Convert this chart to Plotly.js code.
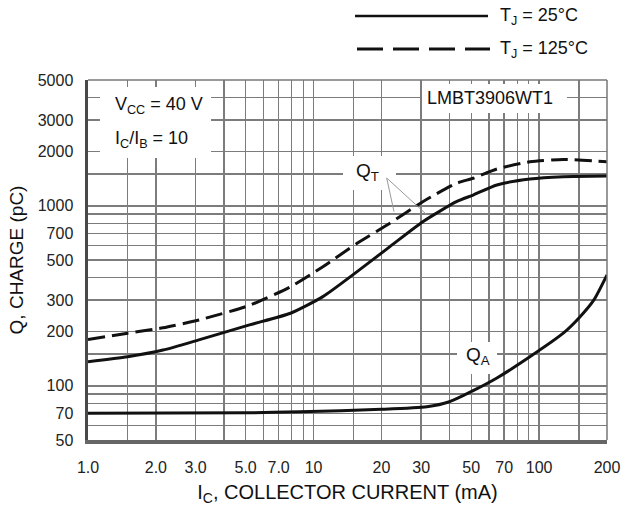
<!DOCTYPE html>
<html>
<head>
<meta charset="utf-8">
<script src="https://cdn.plot.ly/plotly-3.0.1.min.js"></script>
<style>html,body{margin:0;padding:0;background:#fff;}</style>
</head>
<body>
<div id="chart" style="width:630px;height:506px;"></div>
<script>
// ---- data ----
const qt25Current = [1, 1.5, 2.15, 3.1, 5.2, 7.9, 11, 15.6, 21.8, 30.5, 43, 51, 65, 91, 128, 200];
const qt25Charge  = [136, 145, 158, 180, 218, 253, 313, 431, 593, 816, 1054, 1148, 1306, 1409, 1452, 1465];

const qt125Current = [1, 1.5, 2.15, 3.1, 5.2, 7.9, 11, 15.6, 21.8, 30.5, 43, 51, 65, 91, 128, 200];
const qt125Charge  = [181, 196, 210, 232, 280, 355, 459, 619, 800, 1054, 1333, 1422, 1602, 1758, 1811, 1758];

const qa25Current = [1, 5.2, 8.7, 20, 31.8, 40, 51, 65, 91, 128, 152, 175, 200];
const qa25Charge  = [70.5, 70.8, 71.8, 74, 76.5, 81.6, 94, 110.5, 145, 196, 242, 300, 413];

const xTickVals = [1, 2, 3, 5, 7, 10, 20, 30, 50, 70, 100, 200];
const xTickText = ['1.0', '2.0', '3.0', '5.0', '7.0', '10', '20', '30', '50', '70', '100', '200'];
const xMinorGrid = [1.5, 4, 6, 8, 9, 15, 40, 60, 80, 90, 150];

const yTickVals = [50, 70, 100, 200, 300, 500, 700, 1000, 2000, 3000, 5000];
const yTickText = ['50', '70', '100', '200', '300', '500', '700', '1000', '2000', '3000', '5000'];
const yMinorGrid = [60, 80, 90, 150, 400, 600, 800, 900, 1500, 4000];

// ---- styling ----
const FONT = '"Liberation Sans", Arial, Helvetica, sans-serif';
const GRID = '#7c7c7c';
const INK = '#111111';

// pixel helpers for decorations (plot area 88..607 x 80..440)
const L = 88, R = 607, T = 80, B = 440;
const px = v => (v - L) / (R - L);
const py = v => (B - v) / (B - T);

const traces = [
  {x: qt25Current, y: qt25Charge, mode: 'lines', line: {color: INK, width: 3, shape: 'spline', smoothing: 0.6}, hoverinfo: 'skip'},
  {x: qt125Current, y: qt125Charge, mode: 'lines', line: {color: INK, width: 3, dash: '17px,7px', shape: 'spline', smoothing: 0.6}, hoverinfo: 'skip'},
  {x: qa25Current, y: qa25Charge, mode: 'lines', line: {color: INK, width: 3, shape: 'spline', smoothing: 0.6}, hoverinfo: 'skip'}
];

function mask(x0, y0, x1, y1) {
  return {type: 'rect', xref: 'paper', yref: 'paper', x0: px(x0), x1: px(x1), y0: py(y1), y1: py(y0),
          fillcolor: '#ffffff', line: {width: 0}, layer: 'above'};
}
function pline(x0, y0, x1, y1, color, width, dash) {
  return {type: 'line', xref: 'paper', yref: 'paper', x0: px(x0), x1: px(x1), y0: py(y0), y1: py(y1),
          line: {color: color, width: width, dash: dash || 'solid'}, layer: 'above'};
}

const shapes = [
  mask(100, 87, 211, 158),     // V_CC box
  mask(422, 84, 567, 113),     // part number box
  mask(343, 156, 396, 190),    // Q_T label
  mask(457, 342, 497, 374),    // Q_A label
  // thin top / right frame
  pline(L, T, R, T, '#777', 1.5),
  pline(R, T, R, B, '#777', 1.5),
  // Q_T pointer lines
  pline(386.7, 178, 394, 211.7, '#9a9a9a', 1),
  pline(386.7, 178, 426, 214, '#9a9a9a', 1),
  // legend samples
  pline(355, 16, 488, 16, INK, 2.5),
  pline(357, 49, 490, 49, INK, 3, '26px,10px')
];

function ann(text, x, y, size, xanchor) {
  return {text: text, xref: 'paper', yref: 'paper', x: x, y: y, showarrow: false,
          xanchor: xanchor || 'center', yanchor: 'middle', font: {family: FONT, size: size, color: INK}};
}

const annotations = [
  ann('T<sub>J</sub> = 25°C', px(498), py(17), 18, 'left'),
  ann('T<sub>J</sub> = 125°C', px(498), py(49), 18, 'left'),
  ann('V<sub>CC</sub> = 40 V', px(113), py(106), 18, 'left'),
  ann('I<sub>C</sub>/I<sub>B</sub> = 10', px(113), py(139), 18, 'left'),
  ann('LMBT3906WT1', px(490), py(98), 18),
  ann('Q<sub>T</sub>', px(367), py(172), 19),
  ann('Q<sub>A</sub>', px(478), py(356), 19)
];

const layout = {
  width: 630, height: 506,
  margin: {l: L, r: 630 - R, t: T, b: 506 - B},
  paper_bgcolor: '#ffffff', plot_bgcolor: '#ffffff',
  showlegend: false,
  font: {family: FONT, color: INK},
  xaxis: {
    type: 'log', range: [0, Math.log10(200)], fixedrange: true,
    tickmode: 'array', tickvals: xTickVals, ticktext: xTickText,
    ticks: 'outside', ticklen: 10, tickcolor: 'rgba(0,0,0,0)',
    tickfont: {family: FONT, size: 16, color: '#222'},
    showgrid: true, gridcolor: GRID, gridwidth: 1.4,
    minor: {tickmode: 'array', tickvals: xMinorGrid, showgrid: true, gridcolor: GRID, gridwidth: 1.4, ticks: ''},
    showline: true, linecolor: '#666', linewidth: 4, mirror: false, zeroline: false,
    title: {text: 'I<sub>C</sub>, COLLECTOR CURRENT (mA)', font: {family: FONT, size: 20, color: INK}, standoff: 14}
  },
  yaxis: {
    type: 'log', range: [Math.log10(50), Math.log10(5000)], fixedrange: true,
    tickmode: 'array', tickvals: yTickVals, ticktext: yTickText,
    ticks: 'outside', ticklen: 8, tickcolor: 'rgba(0,0,0,0)',
    tickfont: {family: FONT, size: 16, color: '#222'},
    showgrid: true, gridcolor: GRID, gridwidth: 1.4,
    minor: {tickmode: 'array', tickvals: yMinorGrid, showgrid: true, gridcolor: GRID, gridwidth: 1.4, ticks: ''},
    showline: true, linecolor: '#484848', linewidth: 3.5, mirror: false, zeroline: false,
    title: {text: 'Q, CHARGE (pC)', font: {family: FONT, size: 19, color: INK}, standoff: 10}
  },
  shapes: shapes,
  annotations: annotations
};

Plotly.newPlot('chart', traces, layout, {staticPlot: true, displayModeBar: false});
</script>
</body>
</html>
